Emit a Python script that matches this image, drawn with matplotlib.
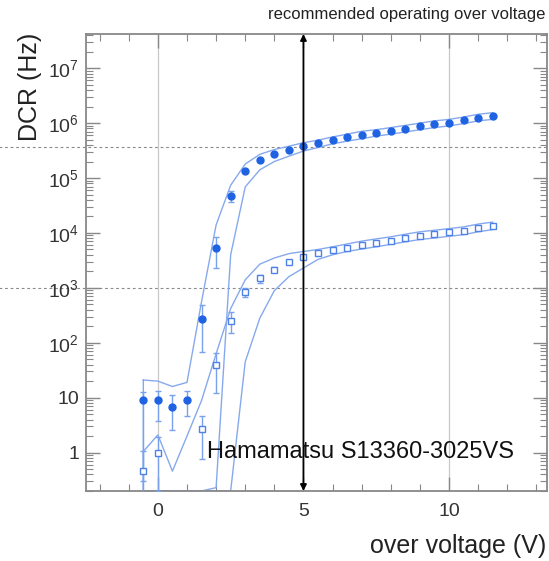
import math
import matplotlib
matplotlib.use('Agg')
import matplotlib.pyplot as plt
from matplotlib.ticker import FixedLocator, LogLocator, FuncFormatter, NullFormatter

plt.rcParams['font.family'] = ['Liberation Sans', 'DejaVu Sans']
plt.rcParams['mathtext.fontset'] = 'custom'
plt.rcParams['mathtext.rm'] = 'Liberation Sans'

# over voltage grid (V) used by the filled points and both bands
volts = [-0.5, 0.0, 0.5, 1.0, 1.5, 2.0, 2.5, 3.0, 3.5, 4.0, 4.5, 5.0, 5.5,
         6.0, 6.5, 7.0, 7.5, 8.0, 8.5, 9.0, 9.5, 10.0, 10.5, 11.0, 11.5]

# filled circles
dcr_filled = [8.9, 9.2, 6.7, 9.0, 275, 5.4e3, 4.8e4, 1.35e5, 2.1e5, 2.75e5, 3.2e5,
              3.8e5, 4.3e5, 4.9e5, 5.5e5, 6.2e5, 6.6e5, 7.2e5, 7.9e5, 8.7e5, 9.5e5,
              1.02e6, 1.12e6, 1.26e6, 1.35e6]
filled_err_lo = [8.6, 5.5, 4.1, 4.3, 208, 3100, 1.1e4, 1.0e4, 1.2e4, 1.4e4, 1.5e4,
                 1.7e4, 1.9e4, 2.2e4, 2.4e4, 2.7e4, 2.9e4, 3.1e4, 3.4e4, 3.7e4, 4.0e4,
                 4.3e4, 4.7e4, 5.2e4, 5.6e4]
filled_err_hi = [4.0, 4.3, 4.3, 4.5, 205, 2900, 1.1e4, 1.0e4, 1.2e4, 1.4e4, 1.5e4,
                 1.7e4, 1.9e4, 2.2e4, 2.4e4, 2.7e4, 2.9e4, 3.1e4, 3.4e4, 3.7e4, 4.0e4,
                 4.3e4, 4.7e4, 5.2e4, 5.6e4]

# open squares
open_volts = [-0.5, 0.0, 1.5, 2.0, 2.5, 3.0, 3.5, 4.0, 4.5, 5.0, 5.5, 6.0, 6.5,
              7.0, 7.5, 8.0, 8.5, 9.0, 9.5, 10.0, 10.5, 11.0, 11.5]
dcr_open = [0.47, 1.0, 2.7, 40, 245, 830, 1500, 2150, 2900, 3600, 4300, 4800, 5400,
            6000, 6600, 7200, 8100, 8900, 9500, 1.02e4, 1.1e4, 1.23e4, 1.35e4]
open_err_lo = [0.3, 0.8, 1.95, 28, 95, 150, 250, 200, 150, 150, 150, 160, 180,
               200, 220, 240, 270, 300, 320, 340, 370, 410, 450]
open_err_hi = [0.58, 0.9, 1.9, 26, 125, 150, 250, 200, 150, 150, 150, 160, 180,
               200, 220, 240, 270, 300, 320, 340, 370, 410, 450]

# bands (outline only)
filled_band_hi = [21, 20, 16, 19, 560, 1.4e4, 7.4e4, 1.8e5, 2.7e5, 3.3e5, 3.8e5,
                  4.4e5, 4.9e5, 5.6e5, 6.3e5, 7.1e5, 7.6e5, 8.3e5, 9.1e5, 1.0e6, 1.1e6,
                  1.17e6, 1.29e6, 1.45e6, 1.55e6]
filled_band_lo = [0.2, 0.2, 0.2, 0.2, 0.2, 0.23, 4.0e3, 6.9e4, 1.41e5, 2.0e5, 2.5e5,
                  3.1e5, 3.6e5, 4.2e5, 4.7e5, 5.2e5, 5.8e5, 6.3e5, 6.9e5, 7.6e5, 8.3e5,
                  8.9e5, 9.8e5, 1.1e6, 1.17e6]
open_band_hi = [1.05, 2.1, 0.46, 2.0, 8.9, 63, 420, 1400, 2700, 3500, 4200, 4600,
                5000, 5600, 6300, 7100, 7800, 8500, 9500, 1.05e4, 1.12e4, 1.2e4,
                1.29e4, 1.45e4, 1.58e4]
open_band_lo = [0.2, 0.2, 0.2, 0.2, 0.2, 0.2, 0.2, 45, 280, 890, 1600, 2300, 3300,
                4000, 4600, 5100, 5600, 6200, 6900, 7600, 8100, 8700, 9300, 1.05e4, 1.15e4]

recommended_ov = 5.0
ref_levels = [3.6e5, 1e3]
x_ticks = [0, 5, 10]
y_ticks = [1, 10, 1e2, 1e3, 1e4, 1e5, 1e6, 1e7]

fig = plt.figure(figsize=(5.49, 5.61), dpi=100)
ax = fig.add_axes([0.1566, 0.1248, 0.8400, 0.8146])
ax.set_yscale('log')
ax.set_xlim(-2.47, 13.37)
ax.set_ylim(0.2, 4.2e7)

band_col = '#86a9ee'
# outline of each band: upper edge, then lower edge back, closed
for hi, lo in [(filled_band_hi, filled_band_lo), (open_band_hi, open_band_lo)]:
    xs = volts + volts[::-1] + [volts[0]]
    ys = hi + lo[::-1] + [hi[0]]
    ax.plot(xs, ys, color=band_col, lw=1.0, zorder=2)

ax.errorbar(volts, dcr_filled, yerr=[filled_err_lo, filled_err_hi], fmt='o',
            color='#1f63e3', ms=5, ecolor='#7aa2ec', elinewidth=1, capsize=2,
            zorder=4)
ax.errorbar(open_volts, dcr_open, yerr=[open_err_lo, open_err_hi], fmt='s',
            mfc='white', mec='#4f82e6', mew=1, ms=5, ecolor='#7aa2ec',
            elinewidth=1, capsize=2, zorder=4)

# vertical grid at the major x ticks
for xv in x_ticks:
    ax.axvline(xv, color='#c8c8c8', lw=0.9, zorder=1)

# dotted reference lines run over the whole width of the figure
for lvl in ref_levels:
    ax.axhline(lvl, xmin=-0.19, xmax=1.0, color='#8a8a8a', lw=0.8,
               ls=(0, (2.5, 2.5)), clip_on=False, zorder=1)

ax.annotate('', xy=(recommended_ov, 1.0), xytext=(recommended_ov, 0.0),
            xycoords=('data', 'axes fraction'),
            arrowprops=dict(arrowstyle='<|-|>', color='black', lw=1.3,
                            mutation_scale=9, shrinkA=0, shrinkB=0), zorder=5)

ax.text(0.262, 0.085, 'Hamamatsu S13360-3025VS', transform=ax.transAxes,
        fontsize=17, color='#111111', va='center', ha='left', zorder=6)

# ticks, ROOT style: inside, on all four sides
ax.xaxis.set_major_locator(FixedLocator(x_ticks))
ax.xaxis.set_minor_locator(FixedLocator(range(-2, 14)))
ax.yaxis.set_major_locator(FixedLocator(y_ticks))
ax.yaxis.set_minor_locator(LogLocator(base=10, subs=range(2, 10), numticks=20))
ax.yaxis.set_minor_formatter(NullFormatter())


def fmt_y(v, pos):
    if v < 5:
        return '1'
    if v < 50:
        return '10'
    return r'$\mathregular{10^{%d}}$' % round(math.log10(v))


ax.yaxis.set_major_formatter(FuncFormatter(fmt_y))
ax.tick_params(which='both', direction='in', top=True, right=True,
               color='#888888', labelsize=14, labelcolor='#333333')
ax.tick_params(which='major', length=10, width=1)
ax.tick_params(which='minor', length=5, width=0.8)
ax.tick_params(axis='x', pad=9)
ax.tick_params(axis='y', pad=5)
for s in ax.spines.values():
    s.set_color('#888888')
    s.set_linewidth(1.3)

fig.text(30 / 549, 1 - 33 / 561, 'DCR (Hz)', rotation=90, ha='center', va='top',
         fontsize=18, color='#222222')
fig.text(546 / 549, 1 - 546 / 561, 'over voltage (V)', ha='right', va='center',
         fontsize=18, color='#222222')
fig.text(545 / 549, 1 - 15 / 561, 'recommended operating over voltage',
         ha='right', va='center', fontsize=12, color='#222222')

fig.savefig('out.png', dpi=100)
